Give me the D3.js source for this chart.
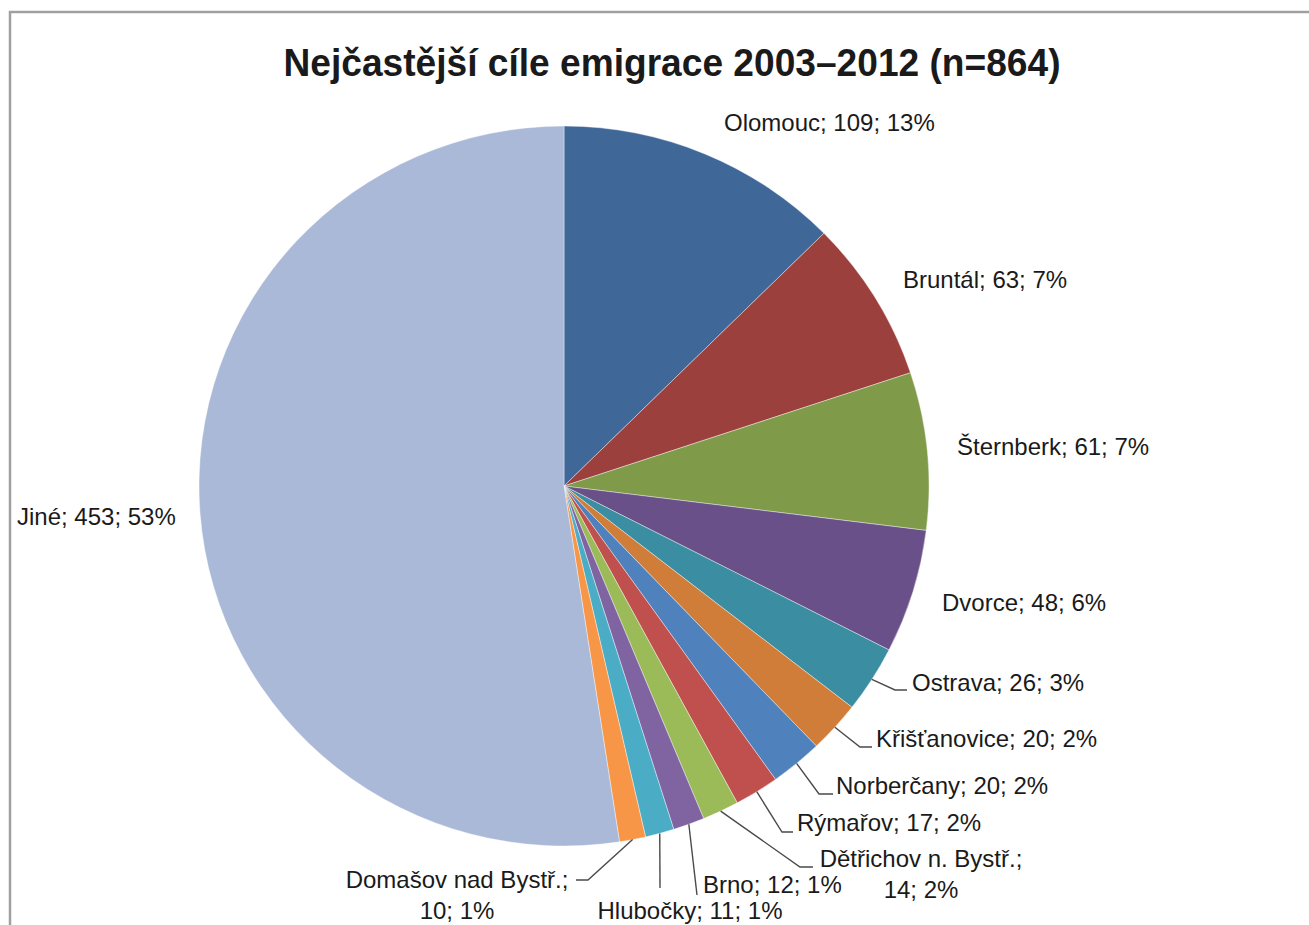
<!DOCTYPE html>
<html>
<head>
<meta charset="utf-8">
<script src="https://cdn.jsdelivr.net/npm/d3@7"></script>
<style>
  body { margin: 0; background: #fff; }
  text { font-family: "Liberation Sans", Arial, sans-serif; fill: #1a1a1a; }
</style>
</head>
<body>
<div id="chart"></div>
<script>
// data
var places = ["Olomouc", "Bruntál", "Šternberk", "Dvorce", "Ostrava", "Křišťanovice", "Norberčany",
              "Rýmařov", "Dětřichov n. Bystř.", "Brno", "Hlubočky", "Domašov nad Bystř.", "Jiné"];
var counts = [109, 63, 61, 48, 26, 20, 20, 17, 14, 12, 11, 10, 453];
var shares = [13, 7, 7, 6, 3, 2, 2, 2, 2, 1, 1, 1, 53];
var colors = ["#3F6899", "#9C403D", "#7F9A48", "#6A5088", "#3B8DA1", "#D07D39", "#4F81BD",
              "#C0504D", "#9BBB59", "#8064A2", "#4BACC6", "#F79646", "#AAB9D7"];

// label placement (text x, center y, anchor, wrap after name) and leader bends
var labelLayout = [
  {x: 724, y: 123, anchor: "start"},
  {x: 903, y: 280, anchor: "start"},
  {x: 957, y: 447, anchor: "start"},
  {x: 942, y: 603, anchor: "start"},
  {x: 912, y: 683, anchor: "start", leader: [[895, 690], [907, 690]]},
  {x: 876, y: 739, anchor: "start", leader: [[860, 747], [872, 747]]},
  {x: 836, y: 786, anchor: "start", leader: [[819, 794], [833, 794]]},
  {x: 797, y: 823, anchor: "start", leader: [[782, 832], [793, 832]]},
  {x: 921, y: 859, anchor: "middle", wrap: true, leader: [[800, 867], [813, 867]]},
  {x: 703, y: 885, anchor: "start", leader: [[697, 895]]},
  {x: 690, y: 911, anchor: "middle", leader: [[660, 888]]},
  {x: 457, y: 880, anchor: "middle", wrap: true, leader: [[588, 880], [576, 880]]},
  {x: 17, y: 517, anchor: "start"}
];

var width = 1309, height = 925;
var cx = 564, cy = 486, rx = 365, ry = 360;

var svg = d3.select("#chart").append("svg")
  .attr("width", width)
  .attr("height", height);

// chart frame
svg.append("rect")
  .attr("x", 10).attr("y", 12)
  .attr("width", 1330).attr("height", 960)
  .attr("fill", "none")
  .attr("stroke", "#A0A0A0")
  .attr("stroke-width", 2.5);

svg.append("text")
  .attr("x", 672).attr("y", 76)
  .attr("text-anchor", "middle")
  .attr("font-size", 38)
  .attr("font-weight", "bold")
  .attr("textLength", 777)
  .attr("lengthAdjust", "spacingAndGlyphs")
  .text("Nejčastější cíle emigrace 2003–2012 (n=864)");

var rows = places.map(function(p, i) {
  return {name: p, count: counts[i], share: shares[i], color: colors[i], lay: labelLayout[i]};
});

var pie = d3.pie().sort(null).value(function(d) { return d.count; });
var arcs = pie(rows);

var arc = d3.arc().innerRadius(0).outerRadius(rx);

// pie is a touch flatter than it is wide
var pieGroup = svg.append("g")
  .attr("transform", "translate(" + cx + "," + cy + ") scale(1," + (ry / rx) + ")");

pieGroup.selectAll("path")
  .data(arcs)
  .enter().append("path")
  .attr("d", arc)
  .attr("fill", function(d) { return d.data.color; })
  .attr("stroke", "#ffffff")
  .attr("stroke-opacity", 0.5)
  .attr("stroke-width", 0.8);

// leader lines start at the slice edge at its mid angle
function edgePoint(d) {
  var a = (d.startAngle + d.endAngle) / 2;
  return [cx + rx * Math.sin(a), cy - ry * Math.cos(a)];
}

var line = d3.line();

svg.selectAll("path.leader")
  .data(arcs.filter(function(d) { return d.data.lay.leader; }))
  .enter().append("path")
  .attr("class", "leader")
  .attr("d", function(d) { return line([edgePoint(d)].concat(d.data.lay.leader)); })
  .attr("fill", "none")
  .attr("stroke", "#4a4a4a")
  .attr("stroke-width", 1.4);

var labels = svg.selectAll("text.lbl")
  .data(arcs)
  .enter().append("text")
  .attr("class", "lbl")
  .attr("font-size", 24)
  .attr("text-anchor", function(d) { return d.data.lay.anchor; });

labels.each(function(d) {
  var t = d3.select(this);
  var lay = d.data.lay;
  var rest = d.data.count + "; " + d.data.share + "%";
  if (lay.wrap) {
    t.append("tspan").attr("x", lay.x).attr("y", lay.y).attr("dy", "0.35em").text(d.data.name + ";");
    t.append("tspan").attr("x", lay.x).attr("y", lay.y + 31).attr("dy", "0.35em").text(rest);
  } else {
    t.append("tspan").attr("x", lay.x).attr("y", lay.y).attr("dy", "0.35em").text(d.data.name + "; " + rest);
  }
});
</script>
</body>
</html>
